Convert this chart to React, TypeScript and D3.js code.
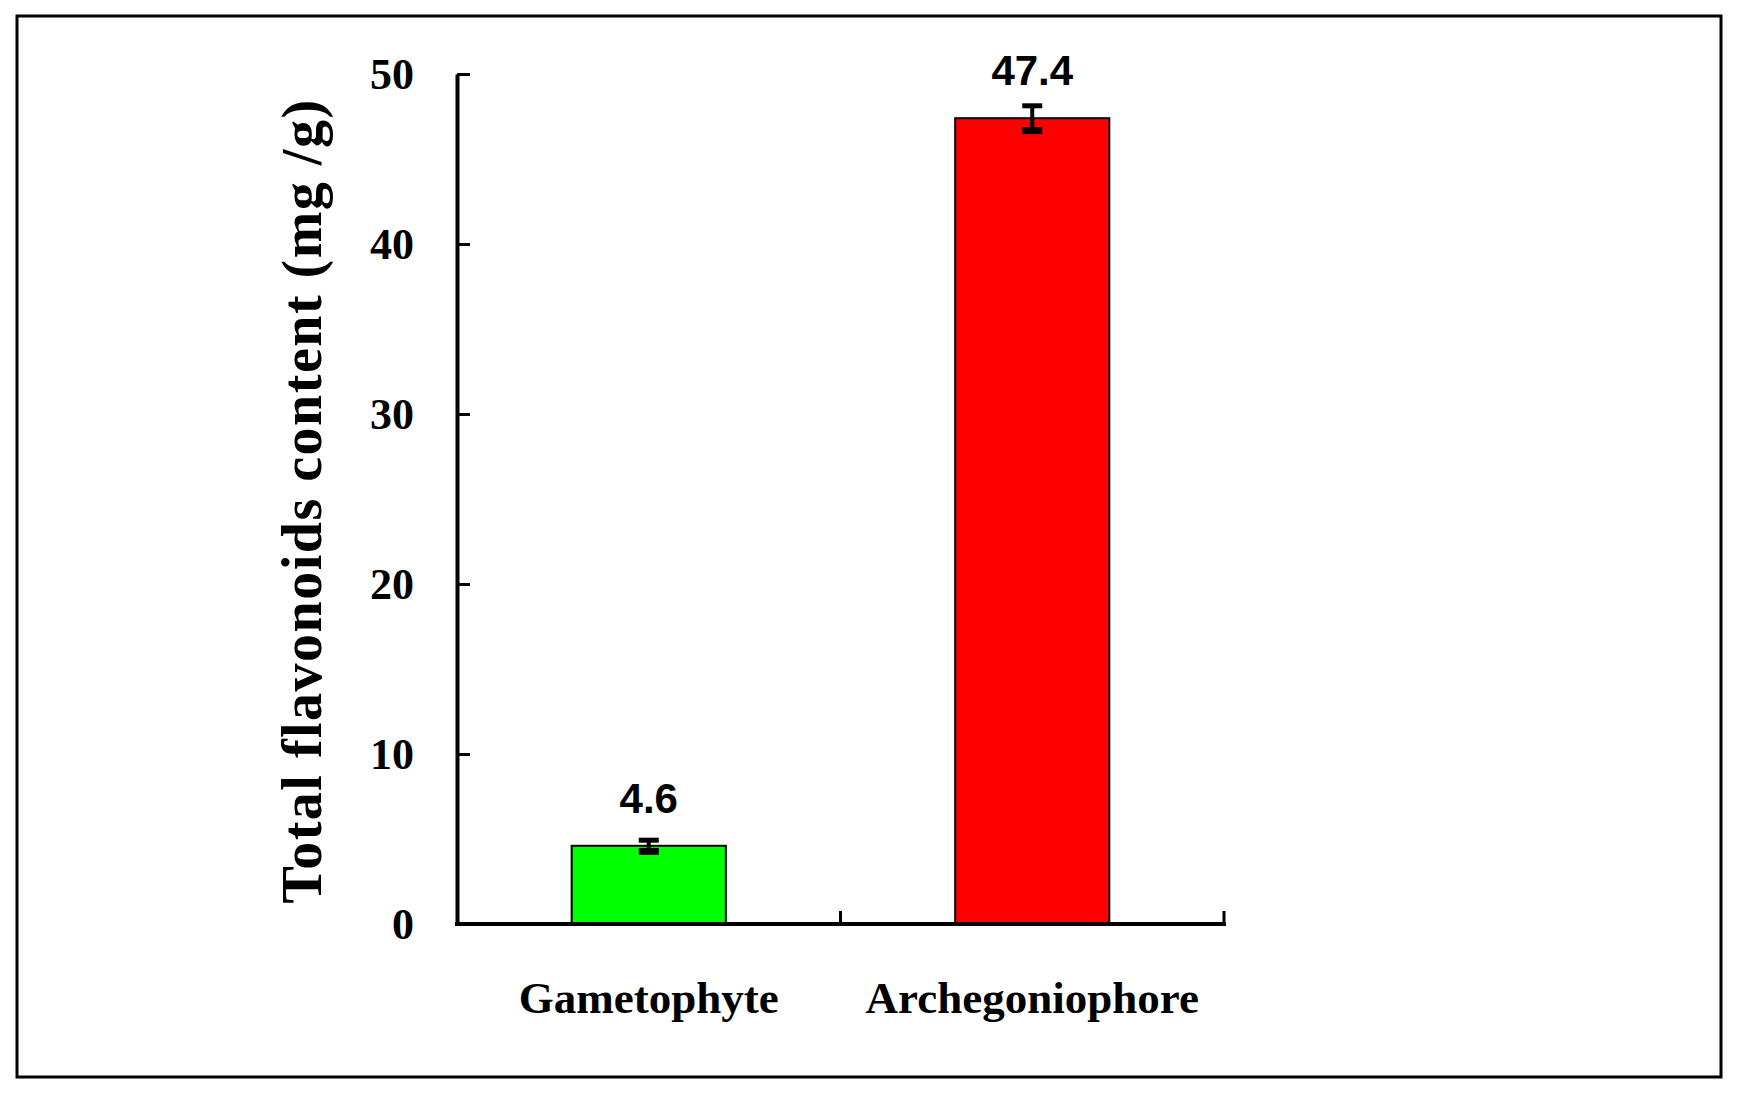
import React, { useRef, useEffect } from 'react';
import * as d3 from 'd3';

const categories = ['Gametophyte', 'Archegoniophore'];
const values = [4.6, 47.4];
const errors = [0.3, 0.7];
const barColors = ['#00ff00', '#ff0000'];
const yTicks = [0, 10, 20, 30, 40, 50];
const yTitle = 'Total flavonoids content (mg /g)';

const W = 1738;
const H = 1095;

export default function App() {
  const svgRef = useRef<SVGSVGElement | null>(null);

  useEffect(() => {
    if (!svgRef.current) return;
    const svg = d3.select(svgRef.current);
    svg.selectAll('*').remove();

    const left = 457;
    const right = 1224;
    const top = 74;
    const bottom = 924;

    // outer frame
    svg.append('rect')
      .attr('x', 17).attr('y', 16)
      .attr('width', 1704).attr('height', 1061)
      .attr('fill', 'white')
      .attr('stroke', '#000')
      .attr('stroke-width', 3);

    const x = d3.scaleBand<string>()
      .domain(categories)
      .range([left, right])
      .paddingInner(0.598)
      .paddingOuter(0.299);

    const y = d3.scaleLinear().domain([0, 50]).range([bottom, top]);

    const serif = '"Liberation Serif", "Times New Roman", serif';
    const sans = '"Liberation Sans", Arial, sans-serif';

    // bars
    svg.append('g')
      .selectAll('rect')
      .data(values)
      .join('rect')
      .attr('x', (_, i) => x(categories[i])!)
      .attr('y', d => y(d))
      .attr('width', x.bandwidth())
      .attr('height', d => y(0) - y(d))
      .attr('fill', (_, i) => barColors[i])
      .attr('stroke', '#000')
      .attr('stroke-width', 2);

    // error bars
    const eb = svg.append('g');
    values.forEach((v, i) => {
      const cx = x(categories[i])! + x.bandwidth() / 2;
      const y1 = y(v + errors[i]);
      const y2 = y(v - errors[i]);
      eb.append('line')
        .attr('x1', cx).attr('x2', cx)
        .attr('y1', y1).attr('y2', y2)
        .attr('stroke', '#000').attr('stroke-width', 4);
      eb.append('rect')
        .attr('x', cx - 10).attr('y', y1 - 3)
        .attr('width', 20).attr('height', 5)
        .attr('fill', '#000');
      eb.append('rect')
        .attr('x', cx - 10).attr('y', y2 - 3)
        .attr('width', 20).attr('height', 7)
        .attr('fill', '#000');
    });

    // value labels
    svg.append('g')
      .selectAll('text')
      .data(values)
      .join('text')
      .attr('x', (_, i) => x(categories[i])! + x.bandwidth() / 2)
      .attr('y', d => y(d) - 33)
      .attr('text-anchor', 'middle')
      .style('font-family', sans)
      .style('font-weight', 'bold')
      .style('font-size', '42px')
      .text(d => d.toFixed(1));

    // y axis
    const yAxis = d3.axisLeft(y)
      .tickValues(yTicks)
      .tickSizeInner(-13)
      .tickSizeOuter(0)
      .tickPadding(43);

    svg.append('g')
      .attr('transform', `translate(${left},0)`)
      .call(yAxis)
      .call(g => g.select('.domain').attr('stroke', '#000').attr('stroke-width', 4))
      .call(g => g.selectAll('.tick line').attr('stroke', '#000').attr('stroke-width', 3))
      .call(g => g.selectAll('.tick text')
        .attr('fill', '#000')
        .style('font-family', serif)
        .style('font-weight', 'bold')
        .style('font-size', '44px'));

    // x axis line with upward ticks at band boundaries
    const xg = svg.append('g');
    xg.append('line')
      .attr('x1', left - 2).attr('x2', right + 2)
      .attr('y1', bottom).attr('y2', bottom)
      .attr('stroke', '#000').attr('stroke-width', 4);
    const bounds = categories.slice(1)
      .map(c => x(c)! - (x.step() * x.paddingInner()) / 2)
      .concat([right]);
    xg.selectAll('line.tk')
      .data(bounds)
      .join('line')
      .attr('class', 'tk')
      .attr('x1', d => d).attr('x2', d => d)
      .attr('y1', bottom).attr('y2', bottom - 13)
      .attr('stroke', '#000').attr('stroke-width', 3);

    // category labels
    xg.selectAll('text')
      .data(categories)
      .join('text')
      .attr('x', d => x(d)! + x.bandwidth() / 2)
      .attr('y', 1013)
      .attr('text-anchor', 'middle')
      .style('font-family', serif)
      .style('font-weight', 'bold')
      .style('font-size', '45px')
      .text(d => d);

    // y title
    svg.append('text')
      .attr('transform', 'translate(321,501) rotate(-90)')
      .attr('text-anchor', 'middle')
      .style('font-family', serif)
      .style('font-weight', 'bold')
      .style('font-size', '56px')
      .style('letter-spacing', '1.5px')
      .text(yTitle);
  }, []);

  return (
    <svg
      ref={svgRef}
      width={W}
      height={H}
      style={{ position: 'absolute', left: 0, top: 0, background: 'white' }}
    />
  );
}
